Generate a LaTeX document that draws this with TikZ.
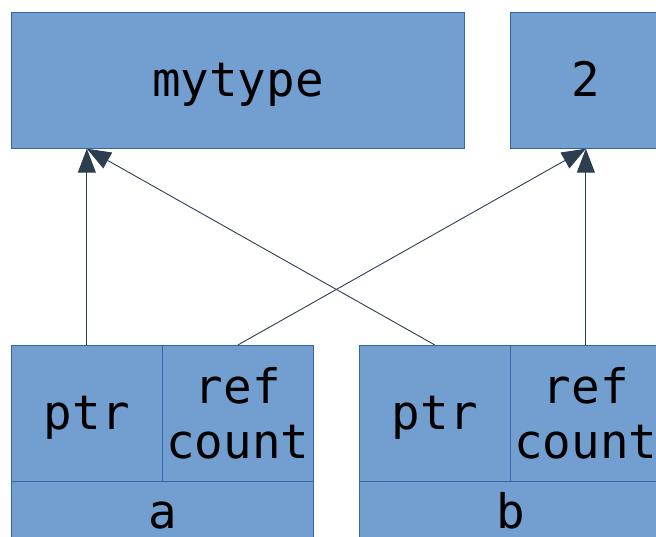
\documentclass[tikz,border=0pt]{standalone}
\usepackage{fontspec}
\setmonofont{DejaVu Sans Mono}
\usetikzlibrary{arrows.meta}
\definecolor{boxfill}{HTML}{729FCF}
\definecolor{boxline}{HTML}{3465A4}
\definecolor{arr}{HTML}{2C3E50}
\tikzset{
  cell/.style={draw=boxline, fill=boxfill, line width=0.7pt, inner sep=0pt, anchor=north west,
    font=\ttfamily\fontsize{47.5}{55}\selectfont, text=black},
  onecell/.style={cell, text height=38pt, text depth=6pt},
  twocell/.style={cell, align=center},
  ptrarrow/.style={draw=arr, line width=0.9pt, -{Triangle[length=24pt,width=18pt]}}
}
\begin{document}
\begin{tikzpicture}[x=1pt,y=-1pt]
\useasboundingbox (0,0) rectangle (656,537);
\clip (0,0) rectangle (656,537);
\node[onecell, minimum width=453pt, minimum height=136pt] (my) at (11,12) {mytype};
\node[onecell, minimum width=150pt, minimum height=136pt] (two) at (510,12) {2};
\node[onecell, minimum width=151pt, minimum height=136pt] (pa) at (11,345) {ptr};
\node[twocell, minimum width=151pt, minimum height=136pt] (ra) at (162,345) {ref\\count};
\node[onecell, minimum width=302pt, minimum height=62pt] (a) at (11,481) {a};
\node[onecell, minimum width=151pt, minimum height=136pt] (pb) at (359,345) {ptr};
\node[twocell, minimum width=151pt, minimum height=136pt] (rb) at (510,345) {ref\\count};
\node[onecell, minimum width=302pt, minimum height=62pt] (b) at (359,481) {b};
\coordinate (myin) at (pa.north |- my.south);
\coordinate (twoin) at (rb.north |- two.south);
\draw[ptrarrow] (pa.north) -- (myin);
\draw[ptrarrow] (pb.north) -- (myin);
\draw[ptrarrow] (ra.north) -- (twoin);
\draw[ptrarrow] (rb.north) -- (twoin);
\end{tikzpicture}
\end{document}
